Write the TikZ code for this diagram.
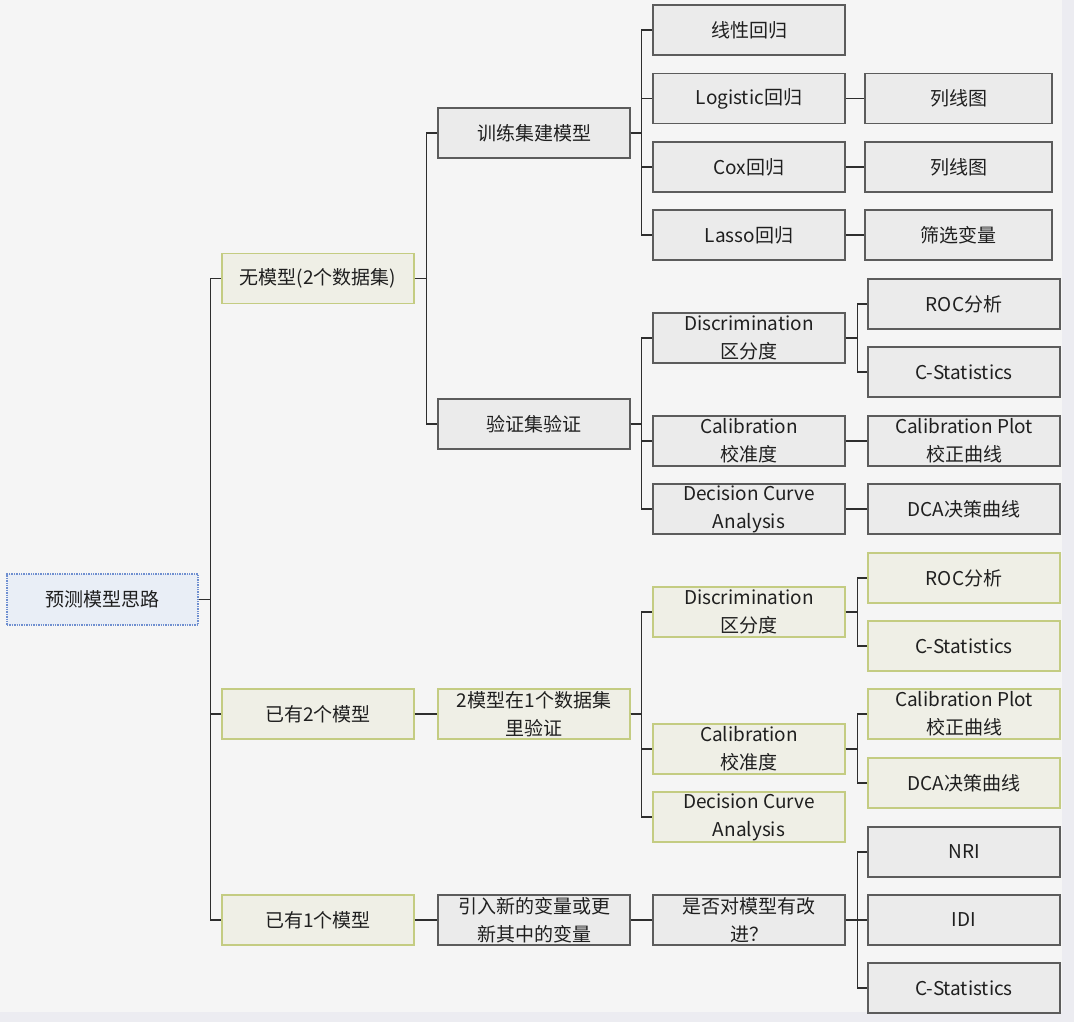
\documentclass[tikz,border=0pt]{standalone}
\usepackage{fontspec}
\setmainfont{Noto Sans CJK SC}
\definecolor{ybord}{HTML}{C4CC82}
\definecolor{yfill}{HTML}{EFEFE6}
\definecolor{gbord}{HTML}{5C5C5C}
\definecolor{gfill}{HTML}{EBEBEB}
\definecolor{rbord}{HTML}{6F8FD0}
\definecolor{rfill}{HTML}{E9EEF6}
\definecolor{bgin}{HTML}{F5F5F5}
\definecolor{bgout}{HTML}{ECECF1}
\begin{document}
\begin{tikzpicture}[x=1pt,y=-1pt,
  every node/.style={font=\fontsize{19}{28}\selectfont, text=black!88, align=center, inner sep=0pt},
  gbox/.style={draw=gbord, fill=gfill, line width=1.3pt, minimum height=50pt, minimum width=192pt},
  ybox/.style={draw=ybord, fill=yfill, line width=1.3pt, minimum height=50pt, minimum width=192pt},
  rbox/.style={draw=rbord, densely dotted, fill=rfill, line width=1.4pt, minimum height=51pt, minimum width=191pt},
  conn/.style={draw=black!82, line width=1.5pt}]
\useasboundingbox (0,0) rectangle (1074,1022);
\fill[bgout] (0,0) rectangle (1074,1022);
\fill[bgin] (0,0) rectangle (1062,1012);
% root
\node[rbox] (root) at (102.5,599.5) {预测模型思路};
% level 1
\node[ybox] (a1) at (318,278.5) {无模型(2个数据集)};
\node[ybox] (a2) at (318,714) {已有2个模型};
\node[ybox] (a3) at (318,920) {已有1个模型};
% level 2
\node[gbox] (b1) at (534,133) {训练集建模型};
\node[gbox] (b2) at (534,424) {验证集验证};
\node[ybox] (b3) at (534,714) {2模型在1个数据集\\里验证};
\node[gbox] (b4) at (534,920) {引入新的变量或更\\新其中的变量};
% level 3
\node[gbox] (c1) at (749,30) {线性回归};
\node[gbox] (c2) at (749,98.5) {Logistic回归};
\node[gbox] (c3) at (749,167) {Cox回归};
\node[gbox] (c4) at (749,235) {Lasso回归};
\node[gbox] (c5) at (749,338) {Discrimination\\区分度};
\node[gbox] (c6) at (749,441) {Calibration\\校准度};
\node[gbox] (c7) at (749,509) {Decision Curve\\Analysis};
\node[ybox] (c8) at (749,612) {Discrimination\\区分度};
\node[ybox] (c9) at (749,749) {Calibration\\校准度};
\node[ybox] (c10) at (749,817) {Decision Curve\\Analysis};
\node[gbox] (c11) at (749,920) {是否对模型有改\\进？};
% level 4
\node[gbox, minimum width=187pt] (d1) at (958.5,98.5) {列线图};
\node[gbox, minimum width=187pt] (d2) at (958.5,167) {列线图};
\node[gbox, minimum width=187pt] (d3) at (958.5,235) {筛选变量};
\node[gbox] (d4) at (964,304) {ROC分析};
\node[gbox] (d5) at (964,372) {C-Statistics};
\node[gbox] (d6) at (964,441) {Calibration Plot\\校正曲线};
\node[gbox] (d7) at (964,509) {DCA决策曲线};
\node[ybox] (d8) at (964,578) {ROC分析};
\node[ybox] (d9) at (964,646) {C-Statistics};
\node[ybox] (d10) at (964,714) {Calibration Plot\\校正曲线};
\node[ybox] (d11) at (964,783) {DCA决策曲线};
\node[gbox] (d12) at (964,852) {NRI};
\node[gbox] (d13) at (964,920) {IDI};
\node[gbox] (d14) at (964,988) {C-Statistics};
% connectors
\foreach \c in {a1,a2,a3} \draw[conn] (root.east) -- ++(12,0) |- (\c.west);
\foreach \c in {b1,b2} \draw[conn] (a1.east) -- ++(12,0) |- (\c.west);
\draw[conn] (a2.east) -- (b3.west);
\draw[conn] (a3.east) -- (b4.west);
\foreach \c in {c1,c2,c3,c4} \draw[conn] (b1.east) -- ++(11,0) |- (\c.west);
\foreach \c in {c5,c6,c7} \draw[conn] (b2.east) -- ++(11,0) |- (\c.west);
\foreach \c in {c8,c9,c10} \draw[conn] (b3.east) -- ++(11,0) |- (\c.west);
\draw[conn] (b4.east) -- (c11.west);
\draw[conn] (c2.east) -- (d1.west);
\draw[conn] (c3.east) -- (d2.west);
\draw[conn] (c4.east) -- (d3.west);
\foreach \c in {d4,d5} \draw[conn] (c5.east) -- ++(12,0) |- (\c.west);
\draw[conn] (c6.east) -- (d6.west);
\draw[conn] (c7.east) -- (d7.west);
\foreach \c in {d8,d9} \draw[conn] (c8.east) -- ++(12,0) |- (\c.west);
\foreach \c in {d10,d11} \draw[conn] (c9.east) -- ++(12,0) |- (\c.west);
\foreach \c in {d12,d13,d14} \draw[conn] (c11.east) -- ++(12,0) |- (\c.west);
\end{tikzpicture}
\end{document}
